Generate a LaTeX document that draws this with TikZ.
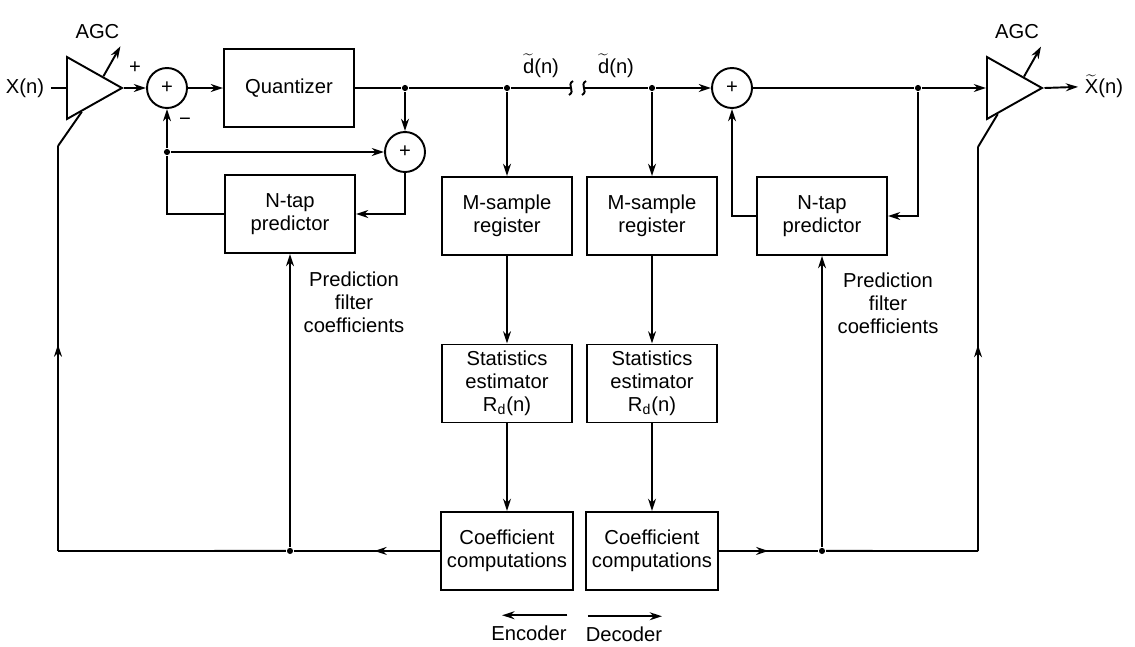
\documentclass[tikz,border=0pt]{standalone}
\usepackage{fontspec}
\setmainfont{Liberation Sans}
\usetikzlibrary{arrows.meta,shapes.geometric,calc,decorations.markings}

\newcommand{\tld}[1]{$\widetilde{\mbox{#1}}$}

\begin{document}
\begin{tikzpicture}[x=0.02cm, y=-0.02cm, ->, >={Stealth[length=7pt,width=4.5pt]},
  line width=1.1pt, node distance=3.35cm, font=\fontsize{11.5}{13}\selectfont,
  block/.style={rectangle, draw, minimum width=2.6cm, minimum height=1.56cm, align=center},
  sum/.style={circle, draw, minimum size=0.8cm, inner sep=0pt},
  amp/.style={isosceles triangle, isosceles triangle stretches, draw, minimum width=1.24cm, minimum height=1.1cm, inner sep=0pt},
  dot/.style={circle, fill, minimum size=3.5pt, inner sep=0pt},
  midarr/.style={postaction={decorate}, decoration={markings, mark=at position #1 with {\arrow{>}}}}]
  \useasboundingbox (0,0) rectangle (1135,646);

  % 编码器
  \node (xin) at (25,88) {X(n)};
  \node[amp, anchor=west] (amp1) at (66,88) {};
  \node[sum] (sum1) at (167,88) {+};
  \node (plus) at (135,68) {+};
  \node (minus) at (185,122) {−};
  \node[block] (quant) at (289,88) {Quantizer};
  \node[dot] (ja) at (405,88) {};
  \node[sum] (sum2) at (405,152) {+};
  \node[dot] (jb) at (167,152) {};
  \node[block] (pred1) at (290,214) {N-tap\\predictor};
  \node[align=center] (pfc1) at (354,302) {Prediction\\filter\\coefficients};

  \node[dot] (jd) at (507,88) {};
  \node[block] (reg1) at (507,216) {M-sample\\register};
  \node[block] (est1) [below of=reg1] {Statistics\\estimator\\R\textsubscript{d}(n)};
  \node[block] (coef1) [below of=est1] {Coefficient\\computations};

  % 信道断开处
  \coordinate (brk1) at (571,88);
  \coordinate (brk2) at (584,88);
  \node (dl) at (541,66) {\tld{d}(n)};
  \node (dr) at (616,66) {\tld{d}(n)};

  % 解码器
  \node[dot] (je) at (652,88) {};
  \node[block] (reg2) at (652,216) {M-sample\\register};
  \node[block] (est2) [below of=reg2] {Statistics\\estimator\\R\textsubscript{d}(n)};
  \node[block] (coef2) [below of=est2] {Coefficient\\computations};

  \node[sum] (sum3) at (732,88) {+};
  \node[block] (pred2) at (822,216) {N-tap\\predictor};
  \node[align=center] (pfc2) at (888,303) {Prediction\\filter\\coefficients};
  \node[dot] (jf) at (918,88) {};
  \node[amp, anchor=west] (amp2) at (986,88) {};
  \node (xout) at (1104,86) {\tld{X}(n)};

  \node[dot] (jl) at (pred1 |- coef1) {};
  \node[dot] (jr) at (pred2 |- coef2) {};
  \coordinate (cl) at (58,551);
  \coordinate (tl) at (58,146);
  \coordinate (cr) at (978,551);
  \coordinate (tr) at (978,147);
  \coordinate (feed1) at ($(amp1.right corner)!0.27!(amp1.apex)$);
  \coordinate (feed2) at ($(amp2.right corner)!0.2!(amp2.apex)$);

  \node (enc) at (529,633) {Encoder};
  \node (dec) at (624,634) {Decoder};

  \path (xin) edge[-] (amp1.west)
        (amp1.apex) edge (sum1)
        (sum1) edge (quant)
        (jb) edge (sum1)
        (jb) edge (sum2)
        (ja) edge (sum2)
        (jd) edge (reg1)
        (reg1) edge (est1)
        (est1) edge (coef1)
        (je) edge (reg2)
        (reg2) edge (est2)
        (est2) edge (coef2)
        (jl) edge (pred1)
        (jr) edge (pred2);

  \draw[-] (quant) -- (ja) -- (jd) -- (brk1);
  \draw (brk2) -- (je) -- (sum3);
  \draw[-] (sum3) -- (jf);
  \draw (jf) -- (amp2.west);
  \draw (amp2.apex) -- (xout);
  \draw[-] (pred1.west) -| (jb);
  \draw (sum2) |- (pred1.east);
  \draw (pred2.west) -| (sum3);
  \draw (jf) |- (pred2.east);

  % 断线符号
  \draw[-] ($(brk1)+(2,-7)$) .. controls ($(brk1)+(-5,-3)$) and ($(brk1)+(5,3)$) .. ($(brk1)+(-2,7)$);
  \draw[-] ($(brk2)+(2,-7)$) .. controls ($(brk2)+(-5,-3)$) and ($(brk2)+(5,3)$) .. ($(brk2)+(-2,7)$);

  % 系数回送与 AGC
  \draw[-, midarr=0.45] (coef1) -- (jl);
  \draw[-] (jl) -- (cl);
  \draw[-, midarr=0.51] (cl) -- (tl);
  \draw[-] (tl) -- (feed1);
  \draw[-, midarr=0.5] (coef2) -- (jr);
  \draw[-] (jr) -- (cr);
  \draw[-, midarr=0.51] (cr) -- (tr);
  \draw[-] (tr) -- (feed2);

  \draw ($(amp1.left corner)!0.64!(amp1.apex)$) -- ++(17,-30) coordinate (agc1);
  \node (agc1l) at ($(agc1)+(-23,-15)$) {AGC};
  \draw ($(amp2.left corner)!0.65!(amp2.apex)$) -- ++(17,-30) coordinate (agc2);
  \node (agc2l) at ($(agc2)+(-24,-15)$) {AGC};

  \draw ([xshift=-3.5pt,yshift=2pt]enc.north east) -- ([xshift=10pt,yshift=2pt]enc.north west);
  \draw ([xshift=5pt,yshift=2pt]dec.north west) -- ([xshift=-4pt,yshift=2pt]dec.north east);
\end{tikzpicture}
\end{document}
